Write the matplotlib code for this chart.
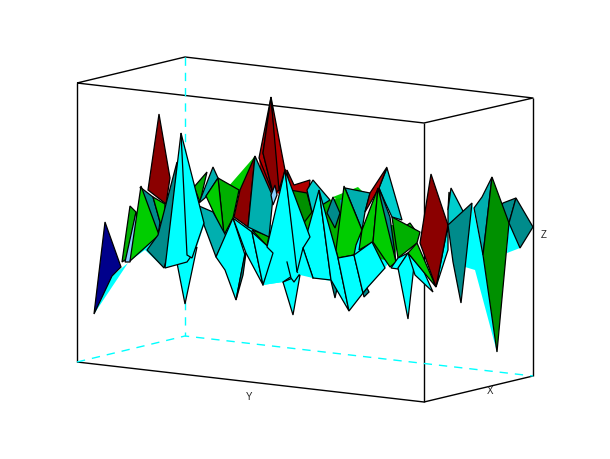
import matplotlib
matplotlib.use("Agg")
import matplotlib.pyplot as plt

# palette of the surface facets
CY = '#00FFFF'; T1 = '#008B8B'; T2 = '#00AFAF'; T3 = '#00CDCD'
G1 = '#00CD00'; G2 = '#00B000'; G3 = '#009000'
R1 = '#8B0000'; R2 = '#B00000'; NV = '#00008B'; LB = '#87CEFF'

# box corners
box_front = [[(77, 83), (185, 57), (533, 98), (424, 123), (77, 83)],
             [(77, 83), (77, 362)], [(533, 98), (533, 376)], [(424, 123), (424, 402)],
             [(77, 362), (424, 402), (533, 376)]]
box_hidden = [[(185, 57), (185, 336)], [(77, 362), (185, 336), (533, 376)]]

# backdrop facets without outline: (colour, vertices)
plain_facets = [
    (CY, [(94, 314), (128, 263), (112, 276)]),
    (CY, [(128, 262), (145, 250), (164, 268), (178, 263), (197, 247), (204, 225), (216, 257),
          (252, 245), (263, 285), (283, 282), (300, 275), (313, 278), (331, 281), (349, 311),
          (363, 293), (385, 268), (400, 245), (395, 225), (130, 225)]),
    (G1, [(228, 187), (255, 156), (240, 195)]),
    (G1, [(333, 197), (358, 187), (366, 195), (345, 205)]),
    (G2, [(300, 205), (342, 198), (342, 255), (310, 255)]),
    (T2, [(340, 200), (362, 195), (362, 235), (345, 235)]),
    (G2, [(360, 225), (398, 225), (395, 262), (360, 255)]),
    (R2, [(259, 158), (287, 170), (285, 195), (262, 190)]),
    (G3, [(282, 185), (300, 195), (300, 240), (285, 240)]),
    (CY, [(472, 203), (465, 267), (475, 270), (497, 352), (483, 255)]),
    (CY, [(509, 223), (520, 248), (507, 253)]),
]

# outlined facets, back to front: (colour, vertices)
edged_facets = [
    (T1, [(503, 203), (516, 198), (509, 223), (495, 215)]),
    (G2, [(122, 262), (130, 206), (136, 212), (128, 258)]),
    (LB, [(125, 262), (136, 212), (140, 225), (130, 262)]),
    (R1, [(159, 114), (170, 178), (166, 204), (148, 190)]),
    (T1, [(140, 187), (153, 197), (160, 222), (158, 235)]),
    (G1, [(153, 197), (165, 204), (165, 230), (160, 222)]),
    (G1, [(141, 186), (159, 235), (130, 261)]),
    (T1, [(147, 250), (158, 235), (166, 204), (177, 162), (172, 240), (164, 268)]),
    (CY, [(177, 263), (185, 304), (197, 247)]),
    (G2, [(194, 187), (207, 172), (200, 202)]),
    (T2, [(213, 167), (218, 178), (205, 198), (199, 203)]),
    (G2, [(218, 178), (239, 190), (233, 218), (224, 235)]),
    (G1, [(218, 178), (206, 196), (224, 235)]),
    (T2, [(199, 206), (213, 212), (226, 236), (216, 257), (204, 225)]),
    (CY, [(181, 133), (165, 268), (187, 262), (192, 255)]),
    (CY, [(181, 133), (204, 223), (192, 258), (187, 255)]),
    (R2, [(271, 97), (259, 158), (273, 193), (263, 153)]),
    (R1, [(271, 97), (263, 153), (273, 193), (280, 190)]),
    (R2, [(271, 97), (285, 170), (279, 190)]),
    (R2, [(287, 170), (294, 185), (310, 180), (308, 200), (290, 195)]),
    (R1, [(255, 156), (240, 190), (234, 217), (248, 227)]),
    (G2, [(252, 230), (269, 236), (267, 246)]),
    (T2, [(255, 156), (273, 197), (269, 237), (248, 227)]),
    (LB, [(275, 185), (277, 195), (273, 205), (271, 195)]),
    (G3, [(290, 190), (307, 193), (312, 212), (303, 224), (297, 205)]),
    (T3, [(313, 180), (330, 200), (322, 205), (312, 212), (307, 190)]),
    (T1, [(333, 197), (340, 213), (335, 228), (327, 213)]),
    (T2, [(345, 188), (370, 193), (365, 212), (362, 230)]),
    (T3, [(387, 168), (402, 220), (392, 217), (385, 202), (379, 188)]),
    (R2, [(387, 167), (379, 188), (365, 212), (370, 193)]),
    (T1, [(379, 188), (390, 217), (396, 262), (388, 260)]),
    (G1, [(344, 186), (362, 230), (356, 245), (354, 255), (338, 258), (336, 250)]),
    (G1, [(378, 188), (362, 230), (359, 250), (373, 242)]),
    (G1, [(378, 188), (373, 242), (390, 267), (396, 262)]),
    (CY, [(233, 218), (216, 257), (225, 270), (236, 300), (245, 255)]),
    (T1, [(236, 300), (245, 253), (246, 253), (243, 275)]),
    (CY, [(233, 218), (252, 232), (263, 285), (246, 253)]),
    (CY, [(252, 232), (275, 253), (263, 285)]),
    (CY, [(283, 282), (293, 315), (300, 275)]),
    (CY, [(319, 190), (303, 248), (313, 278), (331, 280)]),
    (T1, [(331, 281), (335, 298), (338, 284)]),
    (CY, [(319, 190), (338, 258), (349, 311), (331, 280)]),
    (CY, [(338, 258), (354, 255), (363, 293), (349, 311)]),
    (T1, [(363, 293), (367, 288), (369, 292), (364, 297)]),
    (CY, [(354, 255), (372, 242), (385, 268), (367, 288), (363, 293)]),
    (G1, [(403, 228), (410, 223), (415, 230), (404, 236)]),
    (G2, [(392, 217), (420, 232), (417, 243), (398, 258)]),
    (CY, [(391, 268), (398, 269), (408, 253), (398, 258)]),
    (CY, [(398, 268), (408, 319), (415, 257), (408, 253)]),
    (CY, [(408, 253), (415, 275), (433, 292), (424, 272)]),
    (G1, [(417, 243), (436, 287), (408, 253)]),
    (CY, [(448, 225), (436, 287), (448, 250)]),
    (R1, [(431, 174), (448, 225), (436, 287), (420, 243)]),
    (G1, [(449, 192), (448, 210), (452, 205)]),
    (T3, [(451, 188), (465, 215), (448, 225), (448, 210)]),
    (T1, [(448, 225), (472, 203), (465, 268), (461, 303), (453, 262)]),
    (T2, [(482, 197), (492, 177), (483, 255), (474, 208)]),
    (G3, [(492, 177), (509, 223), (497, 352), (483, 255)]),
    (T1, [(509, 223), (516, 198), (533, 227), (520, 248)]),
    (NV, [(94, 314), (105, 222), (121, 267), (112, 276)]),
]

# facets on top whose last side carries no outline: (colour, vertices)
open_facets = [
    (CY, [(283, 282), (298, 272), (285, 170), (267, 247), (273, 253), (263, 285)]),
    (CY, [(297, 272), (285, 170), (310, 237), (303, 248)]),
    (CY, [(297, 272), (303, 248), (313, 278)]),
    (CY, [(287, 262), (291, 278), (294, 282), (299, 275)]),
]

axis_labels = [('Y', 249, 396), ('X', 490, 390), ('Z', 544, 234)]

fig = plt.figure(figsize=(6.1, 4.6), dpi=100, facecolor='white')
ax = fig.add_axes([0, 0, 1, 1])
ax.set_xlim(0, 610)
ax.set_ylim(459, -1)
ax.axis('off')

for line in box_front:
    ax.plot(*zip(*line), color='black', lw=1.0, zorder=1, solid_capstyle='butt')
for line in box_hidden:
    ax.plot(*zip(*line), color='#00FFFF', lw=1.0, ls=(0, (6, 5)), zorder=1.5)

for colour, verts in plain_facets:
    ax.fill(*zip(*verts), facecolor=colour, edgecolor='none', zorder=2)

z = 3.0
for colour, verts in edged_facets:
    ax.fill(*zip(*verts), facecolor=colour, edgecolor='black', linewidth=0.9, zorder=z)
    z += 0.01
for colour, verts in open_facets:
    ax.fill(*zip(*verts), facecolor=colour, edgecolor='none', zorder=z)
    ax.plot(*zip(*verts), color='black', lw=0.9, zorder=z)
    z += 0.01

for label, u, v in axis_labels:
    ax.text(u, v, label, fontsize=7, family='Liberation Sans', ha='center', va='center',
            color='#222222', zorder=9)

fig.savefig('out.png', dpi=100)
